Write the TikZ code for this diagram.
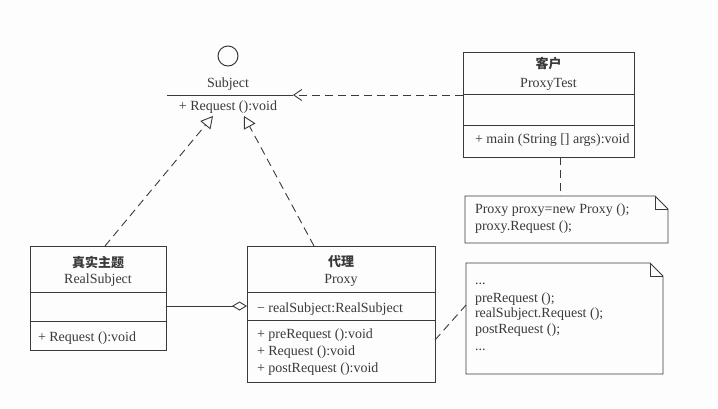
\documentclass[tikz,border=0pt]{standalone}
\usepackage{fontspec}
\setmainfont{Liberation Serif}
\newfontfamily\cjk{Noto Sans CJK SC}
\usetikzlibrary{arrows.meta,calc}

\definecolor{ink}{HTML}{3A3A3A}
\definecolor{paper}{HTML}{FDFDFD}

\tikzset{
  x=1pt, y=-1pt,
  every node/.style={inner sep=0pt, outer sep=0pt, text=ink, font=\fontsize{14}{17}\selectfont},
  umlbox/.style={draw=ink, line width=1pt, fill=none},
  divider/.style={draw=ink, line width=0.9pt},
  txt/.style={anchor=base west},
  ctxt/.style={anchor=base},
  cn/.style={anchor=center, font=\fontsize{13}{15}\cjk\bfseries},
  dashline/.style={draw=ink, line width=0.9pt, dash pattern=on 8pt off 5pt},
  realize/.style={dashline, -{Triangle[open, length=12pt, width=13pt, line width=0.9pt]}},
  depend/.style={dashline, -{Straight Barb[length=8pt, width=11pt, line width=0.9pt]}},
  aggr/.style={draw=ink, line width=0.9pt, -{Diamond[open, length=15pt, width=9pt, line width=0.9pt]}},
  notebody/.style={draw=ink, line width=0.9pt},
}

\begin{document}
\begin{tikzpicture}
  % canvas
  \fill[paper] (0,0) rectangle (718,408);
  \useasboundingbox (0,0) rectangle (718,408);

  % ---------------- interface Subject (lollipop) ----------------
  \node[draw=ink, line width=1pt, circle, minimum size=20pt] (iface) at (228,56) {};
  \node[ctxt] (subjname) at (228,87) {Subject};
  \coordinate (subjL) at (167,95);
  \coordinate (subjR) at (293,95);
  \draw[divider] (subjL) -- (subjR);
  \node[ctxt] (subjop) at (228,110) {+ Request ():void};
  \coordinate (tipA) at (213,116);
  \coordinate (tipB) at (244,116);

  % ---------------- client ProxyTest ----------------
  \node[umlbox, minimum width=171pt, minimum height=105pt] (client) at (548.5,104.5) {};
  \draw[divider] (client.west |- 0,94) -- (client.east |- 0,94);
  \draw[divider] (client.west |- 0,125) -- (client.east |- 0,125);
  \node[cn] (clientcn) at (548.5,64) {客户};
  \node[ctxt] (clientname) at (548.5,87) {ProxyTest};
  \node[txt] (clientop) at (475,143) {+ main (String [] args):void};

  % ---------------- RealSubject ----------------
  \node[umlbox, minimum width=136pt, minimum height=104pt] (real) at (98,298) {};
  \draw[divider] (real.west |- 0,292) -- (real.east |- 0,292);
  \draw[divider] (real.west |- 0,321) -- (real.east |- 0,321);
  \node[cn] (realcn) at (98,262) {真实主题};
  \node[ctxt] (realname) at (98,283) {RealSubject};
  \node[txt] (realop) at (38,341) {+ Request ():void};

  % ---------------- Proxy ----------------
  \node[umlbox, minimum width=188pt, minimum height=136pt] (proxy) at (341,314) {};
  \draw[divider] (proxy.west |- 0,292) -- (proxy.east |- 0,292);
  \draw[divider] (proxy.west |- 0,320) -- (proxy.east |- 0,320);
  \node[cn] (proxycn) at (341,262) {代理};
  \node[ctxt] (proxyname) at (341,283) {Proxy};
  \node[txt] (proxyattr) at (257,312) {− realSubject:RealSubject};
  \node[txt] (proxyop1) at (257,338) {+ preRequest ():void};
  \node[txt] (proxyop2) at (257,355) {+ Request ():void};
  \node[txt] (proxyop3) at (257,372) {+ postRequest ():void};

  % ---------------- notes ----------------
  \node[minimum width=203pt, minimum height=47pt] (noteA) at (566.5,219.5) {};
  \draw[notebody] (noteA.north west) -- ($(noteA.north east)+(-13,0)$)
        -- ($(noteA.north east)+(0,13)$) -- (noteA.south east)
        -- (noteA.south west) -- cycle;
  \draw[notebody] ($(noteA.north east)+(-13,0)$) -- ($(noteA.north east)+(-13,13)$)
        -- ($(noteA.north east)+(0,13)$);
  \node[txt] (noteA1) at (475,213) {Proxy proxy=new Proxy ();};
  \node[txt] (noteA2) at (475,230) {proxy.Request ();};

  \node[minimum width=197pt, minimum height=111pt] (noteB) at (564.5,318.5) {};
  \draw[notebody] (noteB.north west) -- ($(noteB.north east)+(-13,0)$)
        -- ($(noteB.north east)+(0,13)$) -- (noteB.south east)
        -- (noteB.south west) -- cycle;
  \draw[notebody] ($(noteB.north east)+(-13,0)$) -- ($(noteB.north east)+(-13,13)$)
        -- ($(noteB.north east)+(0,13)$);
  \node[txt] (noteB1) at (475,284) {...};
  \node[txt] (noteB2) at (475,302) {preRequest ();};
  \node[txt] (noteB3) at (475,317) {realSubject.Request ();};
  \node[txt] (noteB4) at (475,333) {postRequest ();};
  \node[txt] (noteB5) at (475,350) {...};

  % ---------------- relations ----------------
  \draw[realize] (real.north -| 105,0) -- (tipA);
  \draw[realize] (proxy.north -| 314,0) -- (tipB);
  \draw[depend] (client.west |- subjR) -- (subjR);
  \draw[aggr] (real.east |- 0,306) -- (proxy.west |- 0,306);
  \draw[dashline] (client.south -| 560,0) -- (noteA.north -| 560,0);
  \draw[dashline] (proxy.east |- 0,340) -- (noteB.west |- 0,305);
\end{tikzpicture}
\end{document}
